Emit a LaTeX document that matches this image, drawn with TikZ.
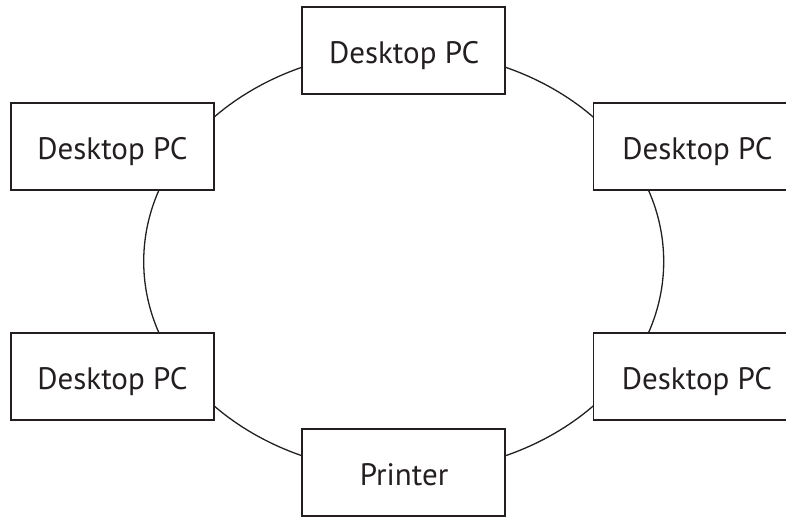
\documentclass[tikz,border=0pt]{standalone}
\usepackage{fontspec}
\setmainfont{PT Sans}
\usetikzlibrary{shapes.geometric}
\definecolor{ink}{HTML}{231F20}
\begin{document}
\begin{tikzpicture}[x=1pt,y=-1pt,
  pcbox/.style={draw=ink, line width=1.8pt, fill=white, minimum width=203pt, minimum height=87pt, inner sep=0pt,
    font=\fontsize{31}{36}\selectfont, text=ink, text height=21.7pt, text depth=0pt, align=center},
  pclabel/.style={text=ink, font=\fontsize{31}{36}\selectfont, inner sep=0pt, text height=21.7pt, text depth=0pt},
  ringline/.style={draw=ink, line width=1.3pt}]
\useasboundingbox (0,0) rectangle (786,518);
\clip (0,0) rectangle (786,518);
\node[ellipse, ringline, minimum width=520pt, minimum height=422pt, inner sep=0pt] (ring) at (403.7,261.5) {};
\node[pcbox] (top) at (403.7,50.5) {};
\node[pcbox] (ul) at (112.3,146.3) {};
\node[pcbox] (ur) at (695,146.3) {};
\node[pcbox] (ll) at (112.3,376.3) {};
\node[pcbox] (lr) at (695,376.3) {};
\node[pcbox] (bot) at (403.7,472.5) {};
\node[pclabel] (topt) at (404.2,53) {Desktop PC};
\node[pclabel] (ult) at (112.5,149) {Desktop PC};
\node[pclabel] (urt) at (697.5,149) {Desktop PC};
\node[pclabel] (llt) at (112.5,378.5) {Desktop PC};
\node[pclabel] (lrt) at (697,378.5) {Desktop PC};
\node[pclabel] (bott) at (404,475) {Printer};
\end{tikzpicture}
\end{document}
